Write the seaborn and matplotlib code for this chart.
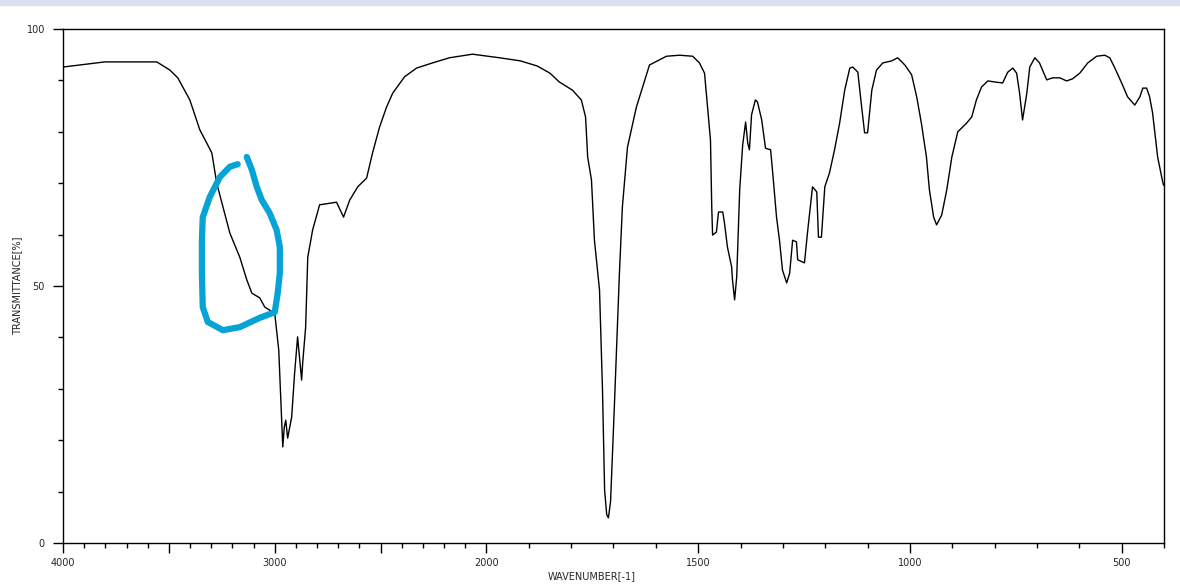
import numpy as np
import pandas as pd
import seaborn as sns
import matplotlib.pyplot as plt
from matplotlib.patches import Rectangle

# IR spectrum (wavenumber in cm-1, transmittance in %)
wavenumber = [4000, 3920, 3802, 3557, 3495, 3458, 3401, 3354, 3297, 3274,
              3212, 3165, 3132, 3108, 3071, 3047, 3000, 2981, 2962, 2955,
              2948, 2939, 2920, 2906, 2892, 2873, 2868, 2854, 2844, 2821,
              2788, 2708, 2675, 2646, 2608, 2566, 2538, 2505, 2472, 2443,
              2387, 2330, 2255, 2175, 2066, 1969, 1920, 1880, 1850, 1828,
              1797, 1776, 1766, 1761, 1752, 1745, 1733, 1726, 1721, 1716,
              1712, 1707, 1698, 1686, 1679, 1667, 1646, 1615, 1575, 1544,
              1513, 1497, 1485, 1478, 1471, 1468, 1466, 1457, 1452, 1442,
              1438, 1431, 1421, 1419, 1414, 1409, 1402, 1395, 1388, 1383,
              1379, 1374, 1365, 1360, 1350, 1341, 1329, 1324, 1315, 1308,
              1301, 1291, 1284, 1277, 1268, 1265, 1249, 1242, 1230, 1220,
              1216, 1209, 1201, 1190, 1178, 1166, 1154, 1142, 1135, 1123,
              1114, 1107, 1100, 1090, 1079, 1064, 1043, 1029, 1012, 996,
              984, 973, 961, 954, 944, 937, 925, 913, 901, 887,
              866, 854, 843, 831, 816, 800, 781, 769, 757, 748,
              741, 734, 724, 717, 705, 694, 677, 663, 646, 630,
              616, 599, 580, 559, 540, 528, 516, 500, 486, 469,
              457, 450, 441, 434, 427, 415, 404, 401]
transmittance = [92.6, 93.0, 93.6, 93.6, 92.0, 90.5, 86.2, 80.4, 75.9, 70.0,
                 60.3, 55.6, 51.2, 48.6, 47.7, 45.9, 44.7, 37.5, 18.7, 22.5,
                 23.9, 20.4, 24.5, 33.1, 40.1, 31.7, 35.0, 42.0, 55.6, 60.9,
                 65.8, 66.3, 63.4, 66.7, 69.3, 71.0, 75.9, 80.9, 84.8, 87.5,
                 90.7, 92.4, 93.4, 94.4, 95.1, 94.4, 93.8, 92.8, 91.4, 89.7,
                 88.1, 86.2, 82.9, 75.1, 70.6, 58.9, 49.2, 29.8, 10.3, 5.5,
                 4.9, 8.0, 26.5, 52.5, 65.4, 77.0, 84.8, 93.0, 94.7, 94.9,
                 94.7, 93.4, 91.4, 84.8, 78.4, 65.4, 59.9, 60.5, 64.4, 64.4,
                 62.3, 57.6, 53.7, 51.2, 47.3, 51.8, 68.7, 77.4, 81.9, 77.8,
                 76.5, 83.3, 86.2, 85.8, 82.3, 76.8, 76.5, 72.0, 63.4, 58.9,
                 53.1, 50.6, 52.5, 58.9, 58.6, 55.1, 54.5, 60.3, 69.3, 68.3,
                 59.5, 59.5, 69.3, 72.0, 76.5, 81.7, 88.1, 92.4, 92.6, 91.6,
                 84.8, 79.8, 79.8, 88.1, 92.0, 93.4, 93.8, 94.4, 93.0, 91.1,
                 86.8, 81.7, 75.1, 68.7, 63.4, 61.9, 63.8, 68.7, 75.1, 80.0,
                 81.7, 82.9, 86.2, 88.7, 89.9, 89.7, 89.5, 91.6, 92.4, 91.4,
                 87.5, 82.3, 87.5, 92.6, 94.4, 93.4, 90.1, 90.5, 90.5, 89.9,
                 90.3, 91.4, 93.4, 94.7, 94.9, 94.4, 92.4, 89.5, 86.8, 85.2,
                 86.8, 88.5, 88.5, 86.8, 83.7, 75.1, 70.6, 69.6]

# hand drawn blue loop around the shoulder (same units as the spectrum)
mark_w = [3175, 3212, 3259, 3307, 3340, 3344, 3344, 3340, 3316, 3245,
          3165, 3071, 3000, 2986, 2976, 2976, 2991, 3024, 3061, 3085,
          3108, 3132]
mark_t = [73.7, 73.2, 71.2, 67.3, 63.4, 58.9, 52.5, 45.9, 43.0, 41.4,
          42.0, 43.8, 44.9, 48.6, 52.5, 57.6, 60.9, 64.2, 66.7, 69.3,
          72.6, 75.1]

x_major = [4000, 3500, 3000, 2500, 2000, 1500, 1000, 500]
x_labels = ['4000', '', '3000', '', '2000', '1500', '1000', '500']
y_major = [0, 50, 100]
y_labels = ['0', '50', '100']

df = pd.DataFrame({'w': wavenumber, 't': transmittance})
marks = pd.DataFrame({'w': mark_w, 't': mark_t})

sns.set_style('ticks')
plt.rcParams['font.family'] = ['DejaVu Sans']


def fwd(w):
    w = np.asarray(w, dtype=float)
    return np.where(w > 2000, 2000 + (w - 2000) / 2, w)


def inv(u):
    u = np.asarray(u, dtype=float)
    return np.where(u > 2000, 2000 + (u - 2000) * 2, u)


fig = plt.figure(figsize=(11.8, 5.87), dpi=100)
fig.patches.append(Rectangle((0, 1 - 5 / 587), 1, 5 / 587, transform=fig.transFigure,
                             color='#dcdff0', zorder=0))
ax = fig.add_axes([63 / 1180, 1 - 543 / 587, 1101 / 1180, 514 / 587])

sns.lineplot(data=df, x='w', y='t', ax=ax, color='black', linewidth=1.0,
             sort=False, estimator=None)
sns.lineplot(data=marks, x='w', y='t', ax=ax, color='#05a3d6', linewidth=4.5,
             sort=False, estimator=None, solid_capstyle='round')

ax.set_xscale('function', functions=(fwd, inv))
ax.set_xlim(4000, 400)
ax.set_ylim(0, 100)

ax.set_xticks(x_major)
ax.set_xticklabels(x_labels)
ax.set_xticks([v for v in range(400, 4001, 100) if v not in x_major], minor=True)
ax.set_yticks(y_major)
ax.set_yticklabels(y_labels)
ax.set_yticks(list(range(10, 100, 10)), minor=True)

ax.tick_params(which='major', length=7, width=1, color='black', labelsize=7, pad=4)
ax.tick_params(which='minor', length=3.5, width=1, color='black')
ax.tick_params(axis='y', which='major', pad=6)

for s in ax.spines.values():
    s.set_visible(True)
    s.set_color('black')
    s.set_linewidth(1.0)

ax.set_xlabel('WAVENUMBER[-1]', fontsize=7)
ax.set_ylabel('TRANSMITTANCE[%]', fontsize=7)
ax.xaxis.set_label_coords(0.48, -0.055)
ax.yaxis.set_label_coords(-0.037, 0.5)
ax.grid(False)

fig.savefig('out.png', dpi=100)
